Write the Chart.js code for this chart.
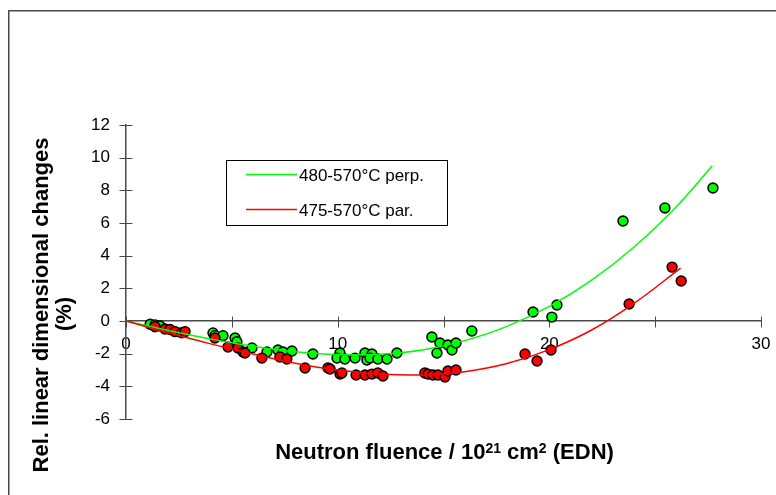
<!DOCTYPE html>
<html>
<head>
<meta charset="utf-8">
<title>Dimensional changes vs neutron fluence</title>
<script src="https://cdn.jsdelivr.net/npm/chart.js@4/dist/chart.umd.min.js"></script>
<style>
  html, body { margin: 0; padding: 0; background: #ffffff; }
  #wrap { width: 776px; height: 495px; }
</style>
</head>
<body>
<div id="wrap"><canvas id="chart" width="776" height="495"></canvas></div>
<script>
// Measured samples: perpendicular direction (480-570 °C)
const perpFluence = [1.14, 1.37, 1.61, 4.11, 4.20, 4.58, 5.15, 5.24, 5.95, 6.66, 7.18, 7.42, 7.84, 8.83,
  10.11, 9.97, 10.34, 10.82, 11.29, 11.38, 11.62, 11.53, 11.90, 12.33, 12.80,
  14.45, 14.83, 14.69, 15.21, 15.40, 15.59, 16.34, 19.23, 20.12, 20.36, 23.48, 25.46, 27.73];
const perpChange = [-0.20, -0.24, -0.31, -0.73, -0.90, -0.90, -1.04, -1.27, -1.65, -1.90, -1.78, -1.90, -1.84, -2.02,
  -1.96, -2.27, -2.33, -2.27, -1.96, -2.39, -2.02, -2.27, -2.33, -2.33, -1.96,
  -0.98, -1.35, -1.96, -1.47, -1.78, -1.35, -0.61, 0.55, 0.24, 0.98, 6.12, 6.92, 8.14];

// Measured samples: parallel direction (475-570 °C)
const parFluence = [1.37, 1.84, 2.08, 2.32, 2.63, 2.79, 4.20, 4.82, 5.29, 5.53, 5.62, 6.42, 7.27, 7.60,
  8.46, 9.54, 9.64, 10.11, 10.20, 10.87, 11.29, 11.62, 11.90, 12.14,
  14.12, 14.27, 14.50, 14.74, 15.07, 15.21, 15.59, 18.85, 19.42, 20.08, 23.77, 25.80, 26.23];
const parChange = [-0.35, -0.49, -0.52, -0.65, -0.72, -0.65, -1.04, -1.59, -1.65, -1.90, -1.96, -2.27, -2.20, -2.33,
  -2.88, -2.88, -2.94, -3.25, -3.18, -3.31, -3.31, -3.25, -3.18, -3.37,
  -3.18, -3.25, -3.31, -3.31, -3.43, -3.06, -3.00, -2.02, -2.45, -1.78, 1.04, 3.30, 2.45];

// Trend curves (polynomial trendlines), sampled along the fluence axis
const perpTrendFluence = [0, 2, 4, 6, 8, 10, 12, 14, 16, 18, 20, 22, 24, 26, 27.7];
const perpTrendChange  = [0, -0.58, -1.10, -1.55, -1.88, -2.05, -2.03, -1.77, -1.20, -0.33, 0.89, 2.50, 4.53, 7.00, 9.50];
const parTrendFluence  = [0, 2, 4, 6, 8, 10, 12, 14, 16, 18, 20, 22, 24, 26.2];
const parTrendChange   = [0, -0.72, -1.40, -2.02, -2.58, -3.00, -3.25, -3.30, -3.10, -2.60, -1.75, -0.55, 1.08, 3.24];

// Axis ticks
const xTickValues = [0, 5, 10, 15, 20, 25, 30];
const xTickLabels = ['0', '', '10', '', '20', '', '30'];
const yTickValues = [-6, -4, -2, 0, 2, 4, 6, 8, 10, 12];

const seriesNames = ['480-570°C perp.', '475-570°C par.'];
const GREEN = '#00ff00';
const RED = '#ff0000';
const AXIS = '#4a4a4a';
const FONT = '"Liberation Sans", Arial, Helvetica, sans-serif';

const toPoints = (xs, ys) => xs.map((x, i) => ({ x: x, y: ys[i] }));

// Cross-shaped tick marks on both axes, the outer frame, legend and axis titles
const axisDecor = {
  id: 'axisDecor',
  beforeDraw(chart) {
    const ctx = chart.ctx;
    ctx.save();
    ctx.strokeStyle = AXIS;
    ctx.lineWidth = 1.5;
    ctx.beginPath();
    ctx.moveTo(8.75, 600);
    ctx.lineTo(8.75, 10.75);
    ctx.lineTo(900, 10.75);
    ctx.stroke();
    ctx.restore();
  },
  beforeDatasetsDraw(chart) {
    const ctx = chart.ctx;
    const xs = chart.scales.x, ys = chart.scales.y;
    const x0 = Math.round(xs.getPixelForValue(0)) + 0.5;
    const y0 = Math.round(ys.getPixelForValue(0)) + 0.5;
    ctx.save();
    ctx.strokeStyle = AXIS;
    ctx.lineWidth = 1;
    ctx.beginPath();
    xTickValues.forEach(v => {
      const px = Math.round(xs.getPixelForValue(v)) + 0.5;
      ctx.moveTo(px, y0 - 5);
      ctx.lineTo(px, y0 + 6);
    });
    yTickValues.forEach(v => {
      const py = Math.round(ys.getPixelForValue(v)) + 0.5;
      ctx.moveTo(x0 - 7, py);
      ctx.lineTo(x0 + 6, py);
    });
    ctx.stroke();
    ctx.restore();
  },
  afterDraw(chart) {
    const ctx = chart.ctx;
    ctx.save();
    // Legend box
    ctx.strokeStyle = '#000';
    ctx.lineWidth = 1;
    ctx.strokeRect(226.5, 160.5, 221, 65);
    const rows = [{ c: GREEN, y: 174.5, t: seriesNames[0] }, { c: RED, y: 209.5, t: seriesNames[1] }];
    ctx.font = '17px ' + FONT;
    ctx.textBaseline = 'middle';
    ctx.textAlign = 'left';
    rows.forEach(r => {
      ctx.strokeStyle = r.c;
      ctx.lineWidth = 1.5;
      ctx.beginPath();
      ctx.moveTo(246, r.y);
      ctx.lineTo(297, r.y);
      ctx.stroke();
      ctx.fillStyle = '#000';
      ctx.fillText(r.t, 299, r.y + 2);
    });

    // X axis title with superscripts
    ctx.fillStyle = '#000';
    ctx.textBaseline = 'alphabetic';
    const parts = [
      { t: 'Neutron fluence / 10', sup: false },
      { t: '21', sup: true },
      { t: ' cm', sup: false },
      { t: '2', sup: true },
      { t: ' (EDN)', sup: false }
    ];
    const big = 'bold 22px ' + FONT, small = 'bold 14px ' + FONT;
    let total = 0;
    parts.forEach(p => { ctx.font = p.sup ? small : big; total += ctx.measureText(p.t).width; });
    let x = 444.5 - total / 2;
    const base = 459;
    parts.forEach(p => {
      ctx.font = p.sup ? small : big;
      ctx.fillText(p.t, x, p.sup ? base - 6 : base);
      x += ctx.measureText(p.t).width;
    });

    // Y axis title (two lines, rotated)
    ctx.save();
    ctx.rotate(-Math.PI / 2);
    ctx.font = 'bold 22px ' + FONT;
    ctx.textAlign = 'center';
    ctx.textBaseline = 'middle';
    ctx.fillText('Rel. linear dimensional changes', -305, 42);
    ctx.fillText('(%)', -314, 65);
    ctx.restore();
    ctx.restore();
  }
};

new Chart(document.getElementById('chart'), {
  type: 'scatter',
  data: {
    datasets: [
      {
        label: seriesNames[1] + ' trend',
        data: toPoints(parTrendFluence, parTrendChange),
        showLine: true, borderColor: RED, borderWidth: 1.5, pointRadius: 0, tension: 0.4, fill: false
      },
      {
        label: seriesNames[0] + ' trend',
        data: toPoints(perpTrendFluence, perpTrendChange),
        showLine: true, borderColor: GREEN, borderWidth: 1.5, pointRadius: 0, tension: 0.4, fill: false
      },
      {
        label: seriesNames[1],
        data: toPoints(parFluence, parChange),
        backgroundColor: RED, borderColor: '#000', borderWidth: 1.6, pointRadius: 4.9
      },
      {
        label: seriesNames[0],
        data: toPoints(perpFluence, perpChange),
        backgroundColor: GREEN, borderColor: '#000', borderWidth: 1.6, pointRadius: 4.9
      }
    ]
  },
  options: {
    responsive: false,
    animation: false,
    events: [],
    layout: { padding: { left: 0, top: 125, right: 15, bottom: 76 } },
    plugins: { legend: { display: false }, tooltip: { enabled: false } },
    scales: {
      x: {
        type: 'linear',
        position: { y: 0 },
        min: 0, max: 30,
        afterBuildTicks(scale) { scale.ticks = xTickValues.map(v => ({ value: v })); },
        afterFit(scale) { scale.paddingLeft = 0; scale.paddingRight = 0; },
        ticks: {
          padding: 13,
          color: '#000',
          font: { family: FONT, size: 17 },
          maxRotation: 0,
          autoSkip: false,
          callback(value) { return xTickLabels[xTickValues.indexOf(value)]; }
        },
        grid: { display: false, drawTicks: false },
        border: { display: true, color: AXIS, width: 1.5 }
      },
      y: {
        type: 'linear',
        position: 'left',
        min: -6, max: 12,
        afterBuildTicks(scale) { scale.ticks = yTickValues.map(v => ({ value: v })); },
        afterFit(scale) { scale.width = 126; },
        ticks: {
          padding: 16,
          color: '#000',
          font: { family: FONT, size: 17 },
          autoSkip: false
        },
        grid: { display: false, drawTicks: false },
        border: { display: true, color: AXIS, width: 1.5 }
      }
    }
  },
  plugins: [axisDecor]
});
</script>
</body>
</html>
